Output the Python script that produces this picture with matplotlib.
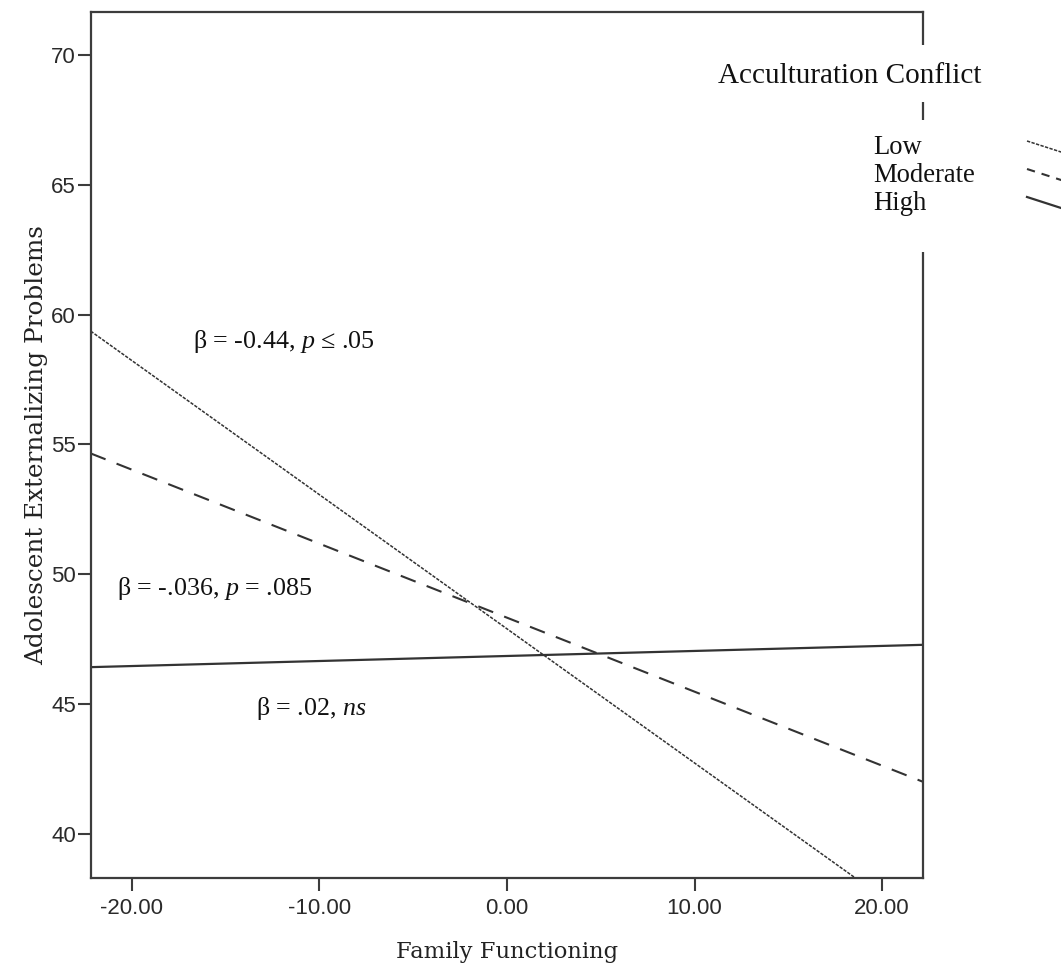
import matplotlib
matplotlib.use("Agg")
import matplotlib.pyplot as plt
from matplotlib.lines import Line2D
from matplotlib.patches import Rectangle

# ---- data ----
x_ends = [-22.2, 22.2]                 # Family Functioning range of the lines
low_vals = [59.36, 36.43]              # Low acculturation conflict
moderate_vals = [54.65, 42.0]          # Moderate acculturation conflict
high_vals = [46.42, 47.28]             # High acculturation conflict
group_labels = ["Low", "Moderate", "High"]
x_ticks = [-20, -10, 0, 10, 20]
x_tick_labels = ["-20.00", "-10.00", "0.00", "10.00", "20.00"]
y_ticks = [40, 45, 50, 55, 60, 65, 70]
y_tick_labels = ["40", "45", "50", "55", "60", "65", "70"]
x_limits = [-22.2, 22.2]
y_limits = [38.3, 71.65]
annotations = [
    (-16.73, 58.97, r"β = -0.44, $p$ ≤ .05"),
    (-20.78, 49.43, r"β = -.036, $p$ = .085"),
    (-13.41, 44.82, r"β = .02, $ns$"),
]
legend_title = "Acculturation Conflict"

plt.rcParams["mathtext.fontset"] = "custom"
plt.rcParams["mathtext.rm"] = "Liberation Serif"
plt.rcParams["mathtext.it"] = "Liberation Serif:italic"
plt.rcParams["lines.scale_dashes"] = False

W, H = 1061, 971
fig = plt.figure(figsize=(W / 100, H / 100), dpi=100)
fig.patch.set_facecolor("white")

L, R, T, B = 90.7, 923.3, 12, 878
ax = fig.add_axes([L / W, 1 - B / H, (R - L) / W, (B - T) / H])

line_col = "#333333"
spine_col = "#3c3c3c"

ax.plot(x_ends, low_vals, color="#333333", lw=1.1, dashes=(2.4, 1.0), solid_capstyle="butt")
ax.plot(x_ends, moderate_vals, color=line_col, lw=1.5, dashes=(11.5, 8.5))
ax.plot(x_ends, high_vals, color=line_col, lw=1.6)

ax.set_xlim(x_limits)
ax.set_ylim(y_limits)
ax.set_xticks(x_ticks)
ax.set_xticklabels(x_tick_labels)
ax.set_yticks(y_ticks)
ax.set_yticklabels(y_tick_labels)

for sp in ax.spines.values():
    sp.set_color(spine_col)
    sp.set_linewidth(1.6)

ax.tick_params(axis="both", direction="out", length=9.5, width=1.5, color=spine_col,
               labelsize=16, labelcolor="#2a2a2a")
ax.tick_params(axis="x", pad=5)
ax.tick_params(axis="y", pad=1)
for lab in ax.get_xticklabels() + ax.get_yticklabels():
    lab.set_family("Liberation Sans")

ax.set_xlabel("Family Functioning", family="DejaVu Serif", fontsize=16.3, color="#222222", labelpad=16)
ax.set_ylabel("Adolescent Externalizing Problems", family="DejaVu Serif", fontsize=17.8,
              color="#222222", labelpad=2)

for xv, yv, txt in annotations:
    ax.text(xv, yv, txt, ha="left", va="center", fontsize=18.7,
            family=["Liberation Serif", "DejaVu Serif"], color="#111111")


def fx(px):
    return px / W


def fy(py):
    return 1 - py / H


# legend background boxes (cover the right spine like the reference)
fig.add_artist(Rectangle((fx(705), fy(102)), fx(995) - fx(705), fy(45) - fy(102),
                         transform=fig.transFigure, facecolor="white", edgecolor="none", zorder=5))
fig.add_artist(Rectangle((fx(865), fy(252)), fx(1061) - fx(865), fy(120) - fy(252),
                         transform=fig.transFigure, facecolor="white", edgecolor="none", zorder=5))

fig.text(fx(718), fy(76), legend_title, ha="left", va="center", fontsize=21,
         family="Liberation Serif", color="#111111", zorder=6)

row_y = [148, 176, 204]
styles = [dict(lw=1.1, dashes=(2.4, 1.0), color="#333333"),
          dict(lw=1.5, dashes=(6.0, 5.0), color=line_col),
          dict(lw=1.6, color=line_col)]
for lab, ry, st in zip(group_labels, row_y, styles):
    fig.text(fx(873), fy(ry), lab, ha="left", va="center", fontsize=19.2,
             family="Liberation Serif", color="#111111", zorder=6)
    ln = Line2D([fx(1027), fx(1075)], [fy(ry - 7), fy(ry + 8.5)], transform=fig.transFigure,
                zorder=6, **st)
    fig.add_artist(ln)

fig.savefig("out.png", dpi=100, facecolor="white")
